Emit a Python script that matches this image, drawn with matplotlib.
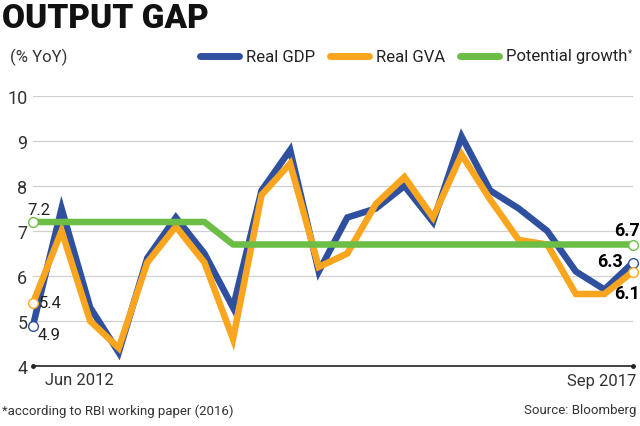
import numpy as np
import matplotlib
matplotlib.use('Agg')
import matplotlib.pyplot as plt

quarters = np.arange(22)
real_gdp = [4.9, 7.5, 5.3, 4.3, 6.4, 7.3, 6.5, 5.3, 7.9, 8.8, 6.1, 7.3,
            7.5, 8.0, 7.2, 9.1, 7.9, 7.5, 7.0, 6.1, 5.7, 6.3]
real_gva = [5.4, 7.0, 5.0, 4.4, 6.3, 7.1, 6.3, 4.6, 7.8, 8.5, 6.2, 6.5,
            7.6, 8.2, 7.3, 8.7, 7.7, 6.8, 6.7, 5.6, 5.6, 6.1]
potential = [7.2] * 7 + [6.7] * 15
yticks = [4, 5, 6, 7, 8, 9, 10]

blue = '#2f4f9f'
orange = '#f9a61e'
green = '#6cbd45'

plt.rcParams['font.family'] = ['Roboto', 'DejaVu Sans']

fig = plt.figure(figsize=(6.4, 4.27), dpi=100)
ax = fig.add_axes([33/640, 1-367/427, 600/640, 270/427])
ax.set_xlim(0, 21)
ax.set_ylim(4, 10)

for y in yticks[1:]:
    ax.axhline(y, color='#d0d0d0', lw=0.9, zorder=0)
ax.plot([0, 21], [4, 4], color='#222222', lw=1.2, clip_on=False, zorder=1)
ax.plot([0, 21], [4, 4], 'o', color='#222222', ms=2.5, clip_on=False)

ax.plot(quarters, real_gdp, color=blue, lw=4.7, solid_joinstyle='miter', zorder=3, clip_on=False)
ax.plot(quarters, real_gva, color=orange, lw=4.7, solid_joinstyle='miter', zorder=4, clip_on=False)
ax.plot(quarters, potential, color=green, lw=4.7, zorder=5, clip_on=False)

# hollow end markers
for series, c in [(real_gdp, blue), (real_gva, orange), (potential, green)]:
    ax.plot([0, 21], [series[0], series[-1]], 'o', ms=7, mfc='white', mec=c, mew=1,
            zorder=6, clip_on=False)

for s in ax.spines.values():
    s.set_visible(False)
ax.set_xticks([])
ax.set_yticks(yticks)
ax.set_yticklabels([str(v) for v in yticks], fontsize=13, color='#333333')
ax.tick_params(axis='y', length=0, pad=4)

# end labels
ax.text(-0.2, 7.32, '7.2', fontsize=12, color='#222222', va='bottom', ha='left')
ax.text(0.2, 5.4, '5.4', fontsize=12, color='#222222', va='center', ha='left')
ax.text(0.15, 4.7, '4.9', fontsize=12, color='#222222', va='center', ha='left')
ax.text(21.25, 6.83, '6.7', fontsize=13, fontweight='bold', va='bottom', ha='right')
ax.text(20.65, 6.33, '6.3', fontsize=13, fontweight='bold', va='center', ha='right')
ax.text(21.25, 5.62, '6.1', fontsize=13, fontweight='bold', va='center', ha='right')

fig.text(45/640, 1-381/427, 'Jun 2012', fontsize=12, color='#333333', va='center')
fig.text(636/640, 1-382/427, 'Sep 2017', fontsize=12, color='#333333', va='center', ha='right')

fig.text(2/640, 1-19/427, 'OUTPUT GAP', fontsize=24, fontweight='heavy',
         va='center', color='#111111')
fig.text(10/640, 1-57/427, '(% YoY)', fontsize=12, color='#333333', va='center')

# legend
for x0, c, lab in [(200, blue, 'Real GDP'), (330, orange, 'Real GVA'),
                   (460, green, 'Potential growth')]:
    fig.add_artist(plt.Line2D([x0/640, (x0+39)/640], [1-57/427]*2, color=c, lw=5,
                              solid_capstyle='round'))
    t = fig.text((x0+46)/640, 1-57/427, lab, fontsize=12, color='#222222', va='center')
ax.annotate('*', xy=(1, 1), xycoords=t, xytext=(0.5, 1), textcoords='offset points',
            fontsize=7, color='#222222', va='top', ha='left', annotation_clip=False)

fig.text(2/640, 1-411/427, '*according to RBI working paper (2016)', fontsize=9.5,
         color='#333333', va='center')
fig.text(636/640, 1-411/427, 'Source: Bloomberg', fontsize=9.5, color='#333333',
         va='center', ha='right')

fig.savefig('out.png', dpi=100)
